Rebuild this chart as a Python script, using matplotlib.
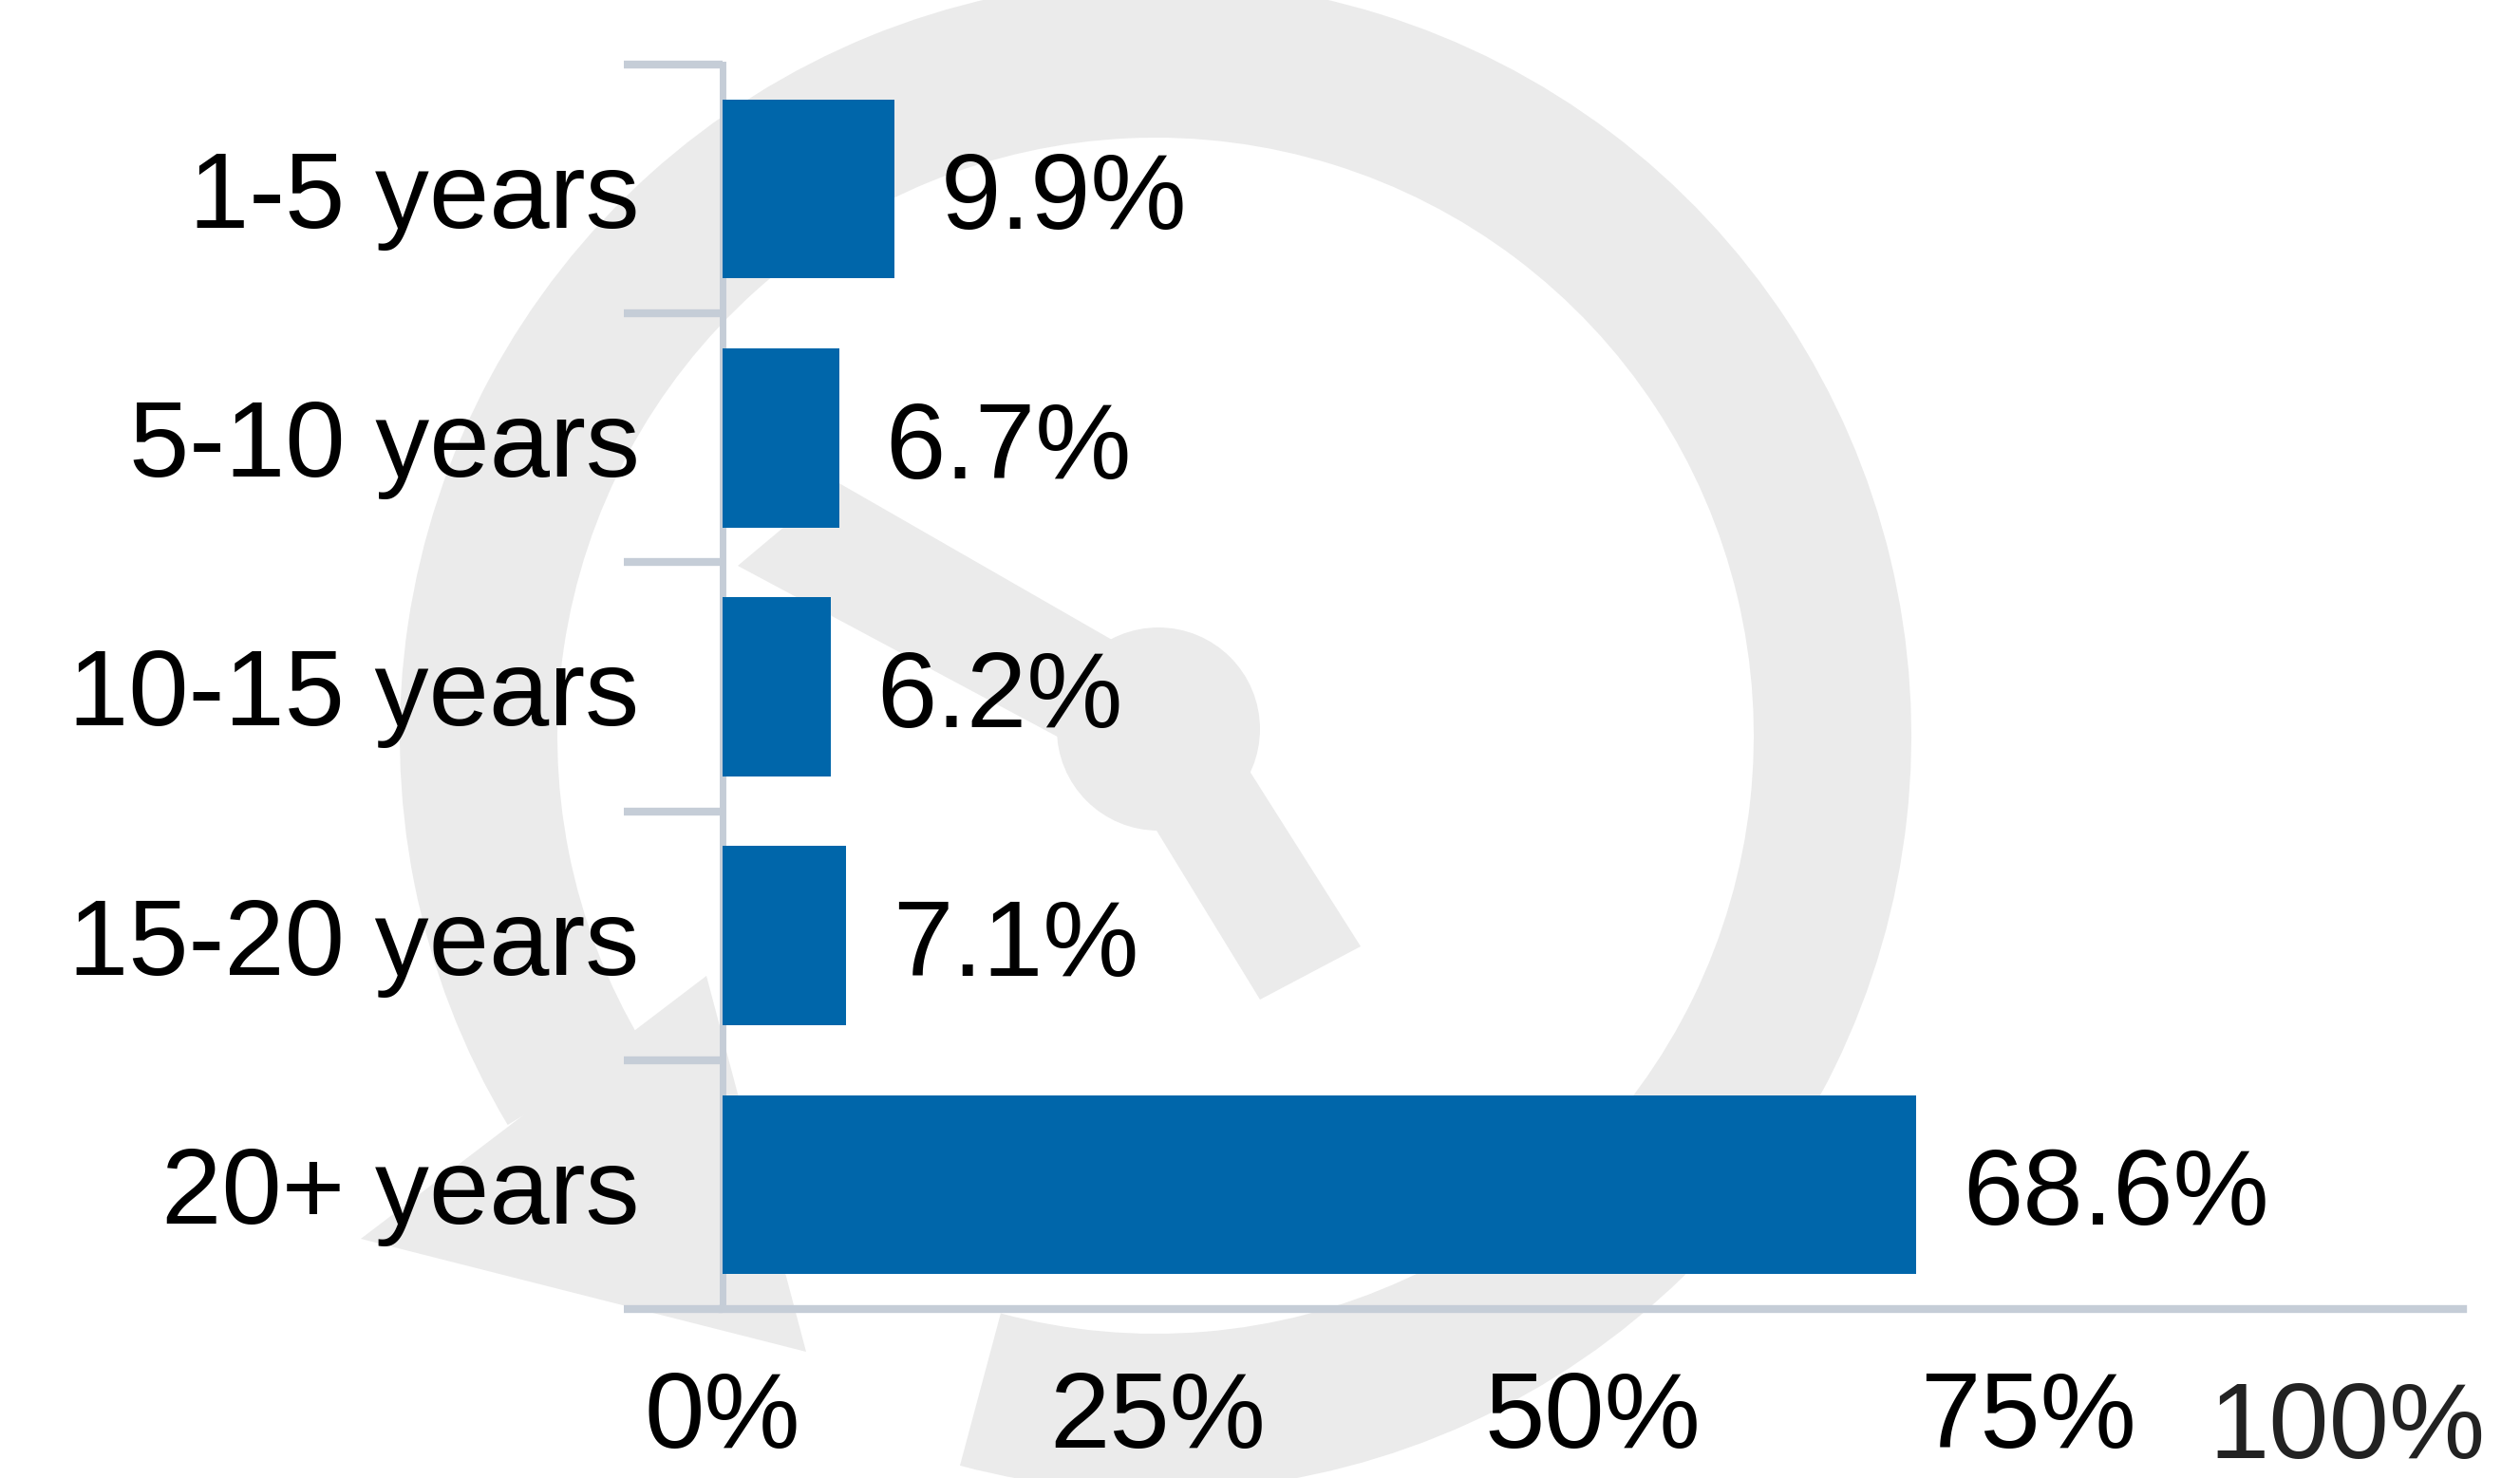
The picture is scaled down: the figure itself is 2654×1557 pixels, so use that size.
import matplotlib
matplotlib.use('Agg')
from matplotlib import pyplot as plt
from matplotlib.patches import Wedge, Circle, Polygon
from matplotlib.transforms import ScaledTranslation

plt.rcParams['font.family'] = ['Liberation Sans', 'DejaVu Sans']

categories = ['1-5 years', '5-10 years', '10-15 years', '15-20 years', '20+ years']
shares = [9.9, 6.7, 6.2, 7.1, 68.6]
xtick_vals = [0, 25, 50, 75, 100]
xtick_labels = ['0%', '25%', '50%', '75%', '100%']

W, H = 2654, 1557
bar_color = '#0066aa'
line_color = '#c5cdd7'
mark_color = '#ebebeb'
fs = 82

fig = plt.figure(figsize=(W / 100, H / 100), dpi=100, facecolor='white')

# gauge logo in the background, drawn in pixel units (y up)
bg = fig.add_axes([0, 0, 1, 1], zorder=0)
bg.set_xlim(0, W)
bg.set_ylim(0, H)
bg.axis('off')


def up(pts):
    return [(x, H - y) for x, y in pts]


cx, cy = 1217, H - 775
bg.add_patch(Wedge((cx, cy), 796, 255, 571, width=166, color=mark_color, lw=0))
bg.add_patch(Polygon(up([(744, 1028), (380, 1305), (849, 1424)]), color=mark_color, lw=0))
bg.add_patch(Circle((1220, H - 768), 107, color=mark_color, lw=0))
bg.add_patch(Polygon(up([(882, 508), (1246, 717), (1194, 819), (777, 596)]), color=mark_color, lw=0))
bg.add_patch(Polygon(up([(1269, 738), (1433, 997), (1327, 1053), (1171, 798)]), color=mark_color, lw=0))

# bar chart
ax = fig.add_axes([761 / W, 1 - 1379 / H, (2594 - 761) / W, (1379 - 68) / H], zorder=1)
ax.patch.set_alpha(0)
ypos = list(range(len(categories)))
ax.barh(ypos, shares, height=0.72, color=bar_color, zorder=3)
ax.set_xlim(0, 100)
ax.set_ylim(len(categories) - 0.5, -0.5)

for s in ['top', 'right']:
    ax.spines[s].set_visible(False)
ax.spines['left'].set_color(line_color)
ax.spines['left'].set_linewidth(5)
ax.spines['bottom'].set_color(line_color)
ax.spines['bottom'].set_linewidth(6)

ax.set_yticks(ypos)
ax.set_yticklabels(categories, fontsize=fs)
ax.set_yticks([y - 0.5 for y in range(len(categories) + 1)], minor=True)
ax.tick_params(axis='y', which='major', length=0, pad=63)
ax.tick_params(axis='y', which='minor', length=75, width=6, color=line_color, direction='out')

ax.set_xticks(xtick_vals)
ax.set_xticklabels(xtick_labels, fontsize=fs)
ax.tick_params(axis='x', length=0, pad=46)
last = ax.get_xticklabels()[-1]
last.set_horizontalalignment('right')
last.set_color('#222222')
last.set_transform(last.get_transform() + ScaledTranslation(17 / 72, -8 / 72, fig.dpi_scale_trans))

for y, v in zip(ypos, shares):
    ax.annotate(f'{v}%', xy=(v, y), xytext=(35, -1), textcoords='offset points',
                va='center_baseline', ha='left', fontsize=fs, color='black')

fig.savefig('out.png', dpi=100, facecolor='white')
